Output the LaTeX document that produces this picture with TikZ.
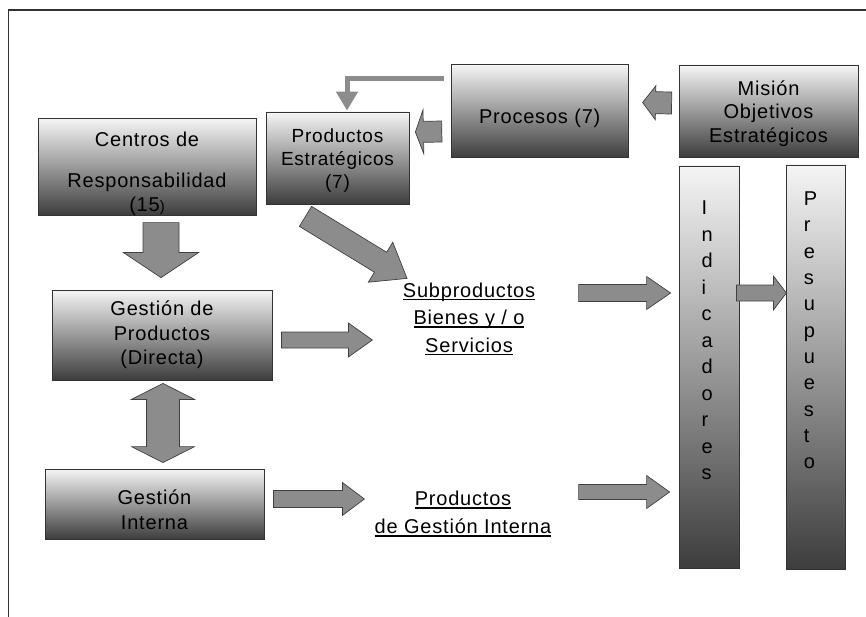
\documentclass[tikz,border=0pt]{standalone}
\usepackage{fontspec}
\setmainfont{Liberation Sans}[LetterSpace=4]
\usetikzlibrary{calc,positioning,arrows.meta}
\newcommand{\boxtop}{white!96!black}
\newcommand{\boxbot}{black!76}
\newcommand{\arrowcol}{black!45}
% underlined line of text
\newcommand{\ulin}[1]{\setbox0\hbox{#1}\rlap{\rule[-3.2pt]{\wd0}{1.4pt}}\box0}
% fat arrow: tail, tip, half body, half head, head length
\newcommand{\blockarrow}[5]{%
  \coordinate (ba) at ($(#2)!#5!(#1)$);
  \draw[fatarrow] ($(#1)!#3!90:(#2)$) -- ($(ba)!#3!90:(#2)$) -- ($(ba)!#4!90:(#2)$) -- (#2)
    -- ($(ba)!#4!-90:(#2)$) -- ($(ba)!#3!-90:(#2)$) -- ($(#1)!#3!-90:(#2)$) -- cycle;}
% fat arrow with two heads
\newcommand{\dblarrow}[5]{%
  \coordinate (da1) at ($(#1)!#5!(#2)$);
  \coordinate (da2) at ($(#2)!#5!(#1)$);
  \draw[fatarrow] (#1) -- ($(da1)!#4!90:(#2)$) -- ($(da1)!#3!90:(#2)$) -- ($(da2)!#3!90:(#2)$)
    -- ($(da2)!#4!90:(#2)$) -- (#2) -- ($(da2)!#4!-90:(#2)$) -- ($(da2)!#3!-90:(#2)$)
    -- ($(da1)!#3!-90:(#2)$) -- ($(da1)!#4!-90:(#2)$) -- cycle;}

\begin{document}
\begin{tikzpicture}[x=1pt,y=-1pt,
    gbox/.style={draw=black!80, line width=0.8pt, top color=\boxtop, bottom color=\boxbot,
      inner sep=0pt, align=center, font=\fontsize{20}{23.5}\selectfont},
    fatarrow/.style={draw=black!75, line width=0.7pt, fill=\arrowcol},
    elbowline/.style={draw=\arrowcol, line width=5pt, -{Triangle[width=21pt,length=19pt]}},
    ultext/.style={inner sep=0pt, align=center, anchor=north},
    pageframe/.style={draw=black!80, line width=1.3pt}]
  \useasboundingbox (0,0) rectangle (866,617);
  \draw[pageframe] (8.5,617) -- (8.5,10) -- (866,10);

  % boxes
  \node[gbox, minimum width=179pt, minimum height=92pt] (mis) at (768.5,111)
    {\rule{0pt}{20pt}Misión\\Objetivos\\Estratégicos};
  \node[gbox, minimum width=177pt, minimum height=93pt, left=50pt of mis] (proc)
    {\rule{0pt}{29.4pt}Procesos (7)};
  \node[gbox, minimum width=143pt, minimum height=92pt, font=\fontsize{19}{23}\selectfont] (prodest) at (337.5,158)
    {\rule{0pt}{19pt}Productos\\Estratégicos\\(7)};
  \node[gbox, minimum width=218pt, minimum height=86pt] (centros) at (147,167)
    {\rule{0pt}{27.3pt}Centros de\\[18pt]Responsabilidad\\(15{\fontsize{15}{15}\selectfont)}};
  \node[gbox, minimum width=220pt, minimum height=90pt, font=\fontsize{20}{24.5}\selectfont] (gprod) at (162,335)
    {Gestión de\\Productos\\(Directa)};
  \node[gbox, minimum width=219pt, minimum height=70pt, font=\fontsize{20}{25}\selectfont] (gint) at (154.5,504)
    {\rule{0pt}{27pt}Gestión\\Interna};
  \node[gbox, minimum width=60pt, minimum height=402pt, text width=15pt, align=left,
    font=\fontsize{20}{26.5}\selectfont] (ind) at (709,367)
    {I\\n\\d\\i\\c\\a\\d\\o\\r\\e\\s\rule[-53.3pt]{0pt}{53.3pt}};
  \node[gbox, minimum width=59pt, minimum height=404pt, text width=25pt, align=left,
    font=\fontsize{20}{26.3}\selectfont, right=47pt of ind] (pres)
    {P\\r\\e\\s\\u\\p\\u\\e\\s\\t\\o\rule[-73.4pt]{0pt}{73.4pt}};

  % underlined outputs
  \node[ultext, font=\fontsize{20}{27.5}\selectfont] (sub) at (469,282.4)
    {\ulin{Subproductos}\\\ulin{Bienes y / o}\\\ulin{Servicios}};
  \node[ultext, font=\fontsize{20}{28}\selectfont] (prodint) at (463,490.7)
    {\ulin{Productos}\\\ulin{de Gestión Interna}};

  % arrows
  \coordinate (mp1) at ($(mis.west)+(-7,-8)$);
  \coordinate (mp2) at ($(proc.east)+(14,-8.5)$);
  \blockarrow{mp1}{mp2}{11pt}{17pt}{13pt}
  \coordinate (pp1) at ($(proc.west)+(-9,20.5)$);
  \coordinate (pp2) at ($(prodest.east)+(6,-26)$);
  \blockarrow{pp1}{pp2}{10.5pt}{22pt}{8pt}
  \draw[elbowline] ($(proc.west)+(-7,-32)$) -| ($(prodest.north)+(9.5,-1)$);
  \coordinate (cg1) at ($(centros.south)+(14,7)$);
  \coordinate (cg2) at ($(gprod.north)+(-1,-12)$);
  \blockarrow{cg1}{cg2}{18pt}{37.5pt}{25pt}
  \coordinate (ps1) at ($(prodest.south)+(-32,12)$);
  \coordinate (ps2) at ($(prodest.south)+(69.5,74)$);
  \blockarrow{ps1}{ps2}{11.7pt}{23.4pt}{31pt}
  \coordinate (gs1) at ($(gprod.east)+(9,5)$);
  \coordinate (gs2) at ($(gprod.east)+(100,5)$);
  \blockarrow{gs1}{gs2}{8pt}{17pt}{24pt}
  \coordinate (si1) at ($(ind.west)+(-100,-74)$);
  \coordinate (si2) at ($(ind.west)+(-8,-74)$);
  \blockarrow{si1}{si2}{8.5pt}{16.5pt}{24pt}
  \coordinate (ip1) at ($(ind.east)+(-3,-74)$);
  \coordinate (ip2) at ($(pres.west)+(0,-74)$);
  \blockarrow{ip1}{ip2}{8pt}{17pt}{13pt}
  \coordinate (gg1) at ($(gprod.south)+(1,3)$);
  \coordinate (gg2) at ($(gint.north)+(8.5,-6)$);
  \dblarrow{gg1}{gg2}{16.5pt}{31.5pt}{16pt}
  \coordinate (gp1) at ($(gint.east)+(9,-5)$);
  \coordinate (gp2) at ($(gint.east)+(100,-5)$);
  \blockarrow{gp1}{gp2}{8.5pt}{16.5pt}{22pt}
  \coordinate (pi1) at ($(ind.west)+(-100,125)$);
  \coordinate (pi2) at ($(ind.west)+(-9,125)$);
  \blockarrow{pi1}{pi2}{7.5pt}{16.5pt}{23pt}
\end{tikzpicture}
\end{document}
